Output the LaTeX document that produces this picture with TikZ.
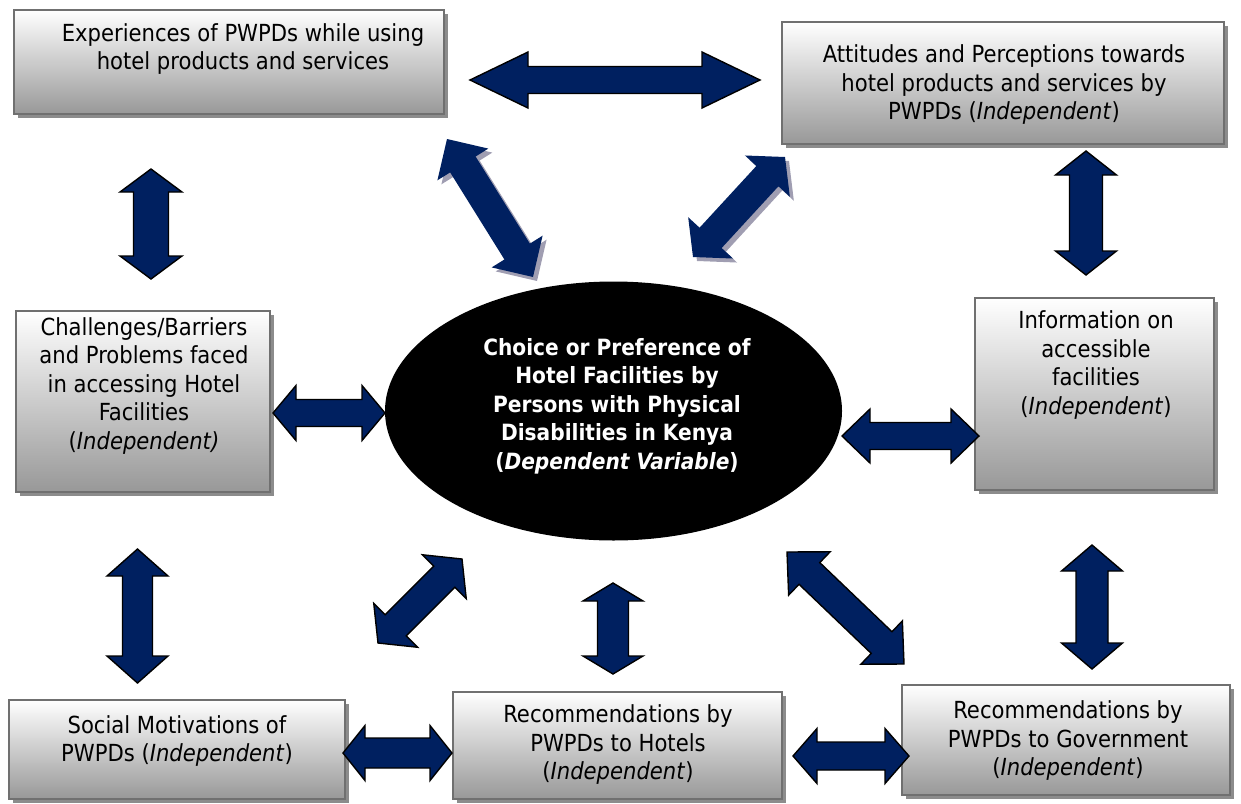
\documentclass[tikz,border=0pt]{standalone}
\usepackage{fontspec}
\setmainfont{DejaVu Sans Condensed}
\usetikzlibrary{calc,shapes.geometric,shadows}

\definecolor{navy}{RGB}{0,32,96}
\definecolor{boxline}{RGB}{112,112,112}
\definecolor{boxshade}{RGB}{152,152,152}
\definecolor{arrowshadow}{RGB}{160,158,178}

% fat double-headed arrow between two named points
% #1 style, #2 start, #3 end, #4 shaft half width, #5 head half width, #6 head length
\newcommand\fatarrow[6][]{%
  \path ($(#2)!#6!(#3)$) coordinate (faA) ($(#3)!#6!(#2)$) coordinate (faB);
  \path[#1] (#2) -- ($(faA)!#5!90:(#3)$) -- ($(faA)!#4!90:(#3)$)
    -- ($(faB)!#4!-90:(#2)$) -- ($(faB)!#5!-90:(#2)$) -- (#3)
    -- ($(faB)!#5!90:(#2)$) -- ($(faB)!#4!90:(#2)$)
    -- ($(faA)!#4!-90:(#3)$) -- ($(faA)!#5!-90:(#3)$) -- cycle;
}

\tikzset{
  box/.style={draw=boxline, line width=2pt, top color=white, bottom color=boxshade,
    rectangle, inner sep=0pt,
    drop shadow={shadow xshift=4pt, shadow yshift=-4pt, fill=black!45, opacity=1}},
  lbl/.style={align=center, inner sep=0pt, font=\fontsize{23.5}{28.5}\selectfont},
  core/.style={ellipse, fill=black, inner sep=0pt},
  corelbl/.style={align=center, inner sep=0pt, text=white,
    font=\fontsize{22.4}{28.5}\selectfont\bfseries},
  outlined/.style={fill=navy, draw=black, line width=1.4pt, line join=miter},
  plainarrow/.style={fill=navy},
  arrowshade/.style={fill=arrowshadow},
}

\begin{document}
\begin{tikzpicture}[x=1pt,y=-1pt]
\useasboundingbox (0,0) rectangle (1241,803);

% boxes
\node[box, minimum width=430pt, minimum height=104pt] (exp) at (229,62) {};
\node[box, minimum width=442pt, minimum height=122pt] (att) at (1003,83) {};
\node[box, minimum width=254pt, minimum height=181pt] (chal) at (143,401.5) {};
\node[box, minimum width=239pt, minimum height=192pt] (info) at (1094.5,394) {};
\node[box, minimum width=336pt, minimum height=99pt] (soc) at (177,749.5) {};
\node[box, minimum width=329pt, minimum height=107pt] (rhot) at (617.5,745.5) {};
\node[box, minimum width=328pt, minimum height=110pt] (rgov) at (1066,740) {};

% central variable
\node[core, minimum width=457pt, minimum height=259pt] (choice) at (613.5,411) {};

% texts
\node[lbl] (expT) at (243,49) {Experiences of PWPDs while using\\hotel products and services};
\node[lbl] (attT) at (1004,85) {Attitudes and Perceptions towards\\hotel products and services by\\PWPDs (\textit{Independent})};
\node[lbl] (chalT) at (144,386) {Challenges/Barriers\\and Problems faced\\in accessing Hotel\\Facilities\\(\textit{Independent)}};
\node[lbl] (infoT) at (1096,365) {Information on\\accessible\\facilities\\(\textit{Independent})};
\node[lbl] (socT) at (177,741) {Social Motivations of\\PWPDs (\textit{Independent})};
\node[lbl] (rhotT) at (618,745) {Recommendations by\\PWPDs to Hotels\\(\textit{Independent})};
\node[lbl] (rgovT) at (1068,741) {Recommendations by\\PWPDs to Government\\(\textit{Independent})};
\node[corelbl] (choiceT) at (617,406) {Choice or Preference of\\Hotel Facilities by\\Persons with Physical\\Disabilities in Kenya\\(\textit{Dependent Variable})};

% arrow end points
\coordinate (a1s) at (470,80);     \coordinate (a1e) at (760,80);
\coordinate (a2s) at (151,169);    \coordinate (a2e) at (151,279);
\coordinate (a3s) at (1086,151);   \coordinate (a3e) at (1086,275);
\coordinate (a4s) at (273,413);    \coordinate (a4e) at (385,413);
\coordinate (a5s) at (842,436);    \coordinate (a5e) at (979,436);
\coordinate (a6s) at (137.5,549);  \coordinate (a6e) at (137.5,683);
\coordinate (a7s) at (1092,545);   \coordinate (a7e) at (1092,669);
\coordinate (a8s) at (613,583);    \coordinate (a8e) at (613,674);
\coordinate (a9s) at (343,753);    \coordinate (a9e) at (452,753);
\coordinate (a10s) at (793,756);   \coordinate (a10e) at (909,756);
\coordinate (a11s) at (378,643);   \coordinate (a11e) at (462,559);
\coordinate (a12s) at (787,552);   \coordinate (a12e) at (904,664);
\coordinate (a13s) at (447,139);   \coordinate (a13e) at (533,277);
\coordinate (a14s) at (693,257);   \coordinate (a14e) at (785,157);

% straight connectors
\fatarrow[outlined]{a1s}{a1e}{13.5pt}{28pt}{58pt}
\fatarrow[outlined]{a2s}{a2e}{17.5pt}{31pt}{23pt}
\fatarrow[outlined]{a3s}{a3e}{16.5pt}{30.5pt}{24pt}
\fatarrow[outlined]{a4s}{a4e}{13.5pt}{27.5pt}{23pt}
\fatarrow[outlined]{a5s}{a5e}{13.5pt}{27pt}{28pt}
\fatarrow[outlined]{a6s}{a6e}{15pt}{30.5pt}{27pt}
\fatarrow[outlined]{a7s}{a7e}{16pt}{30.5pt}{26pt}
\fatarrow[outlined]{a8s}{a8e}{15.5pt}{30pt}{18pt}
\fatarrow[outlined]{a9s}{a9e}{15pt}{27.5pt}{22pt}
\fatarrow[outlined]{a10s}{a10e}{14pt}{27.5pt}{24pt}

% diagonal connectors below the centre
\fatarrow[outlined]{a11s}{a11e}{15pt}{31pt}{25pt}
\fatarrow[outlined]{a12s}{a12e}{15pt}{30pt}{31pt}

% diagonal connectors above the centre, with soft shadow
\begin{scope}[transform canvas={xshift=4pt,yshift=-4pt}]
  \fatarrow[arrowshade]{a13s}{a13e}{15pt}{30pt}{30pt}
  \fatarrow[arrowshade]{a14s}{a14e}{15pt}{30.5pt}{26pt}
\end{scope}
\fatarrow[plainarrow]{a13s}{a13e}{15pt}{30pt}{30pt}
\fatarrow[plainarrow]{a14s}{a14e}{15pt}{30.5pt}{26pt}
\end{tikzpicture}
\end{document}
